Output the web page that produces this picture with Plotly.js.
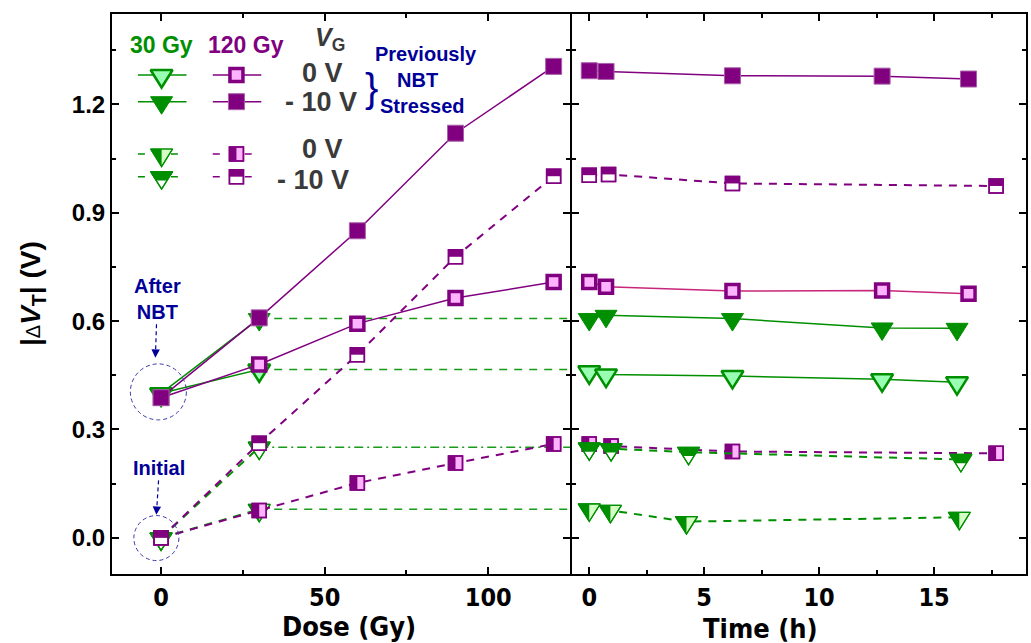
<!DOCTYPE html>
<html>
<head>
<meta charset="utf-8">
<script src="https://cdn.plot.ly/plotly-3.0.1.min.js"></script>
<style>html,body{margin:0;padding:0;background:#fff;}</style>
</head>
<body>
<div id="chart" style="width:1031px;height:643px;"></div>
<script>
// ---- Dose sweep (Gy) ----
const dose = [0, 30, 60, 90, 120];
const dose30 = [0, 30];

// |ΔVT| (V) versus dose
const prev30_0V    = [0.400, 0.466];
const prev30_m10V  = [0.400, 0.607];
const prev120_0V   = [0.388, 0.480, 0.593, 0.664, 0.708];
const prev120_m10V = [0.388, 0.609, 0.850, 1.120, 1.305];
const fresh30_0V    = [0.000, 0.079];
const fresh30_m10V  = [0.000, 0.251];
const fresh120_0V   = [0.000, 0.076, 0.152, 0.207, 0.260];
const fresh120_m10V = [0.000, 0.262, 0.507, 0.778, 1.001];

// ---- Post-irradiation recovery: time (h) and |ΔVT| (V) ----
const tPrev30  = [0, 0.73, 6.23, 12.74, 16.0];
const recPrev30_0V   = [0.461, 0.452, 0.448, 0.439, 0.431];
const recPrev30_m10V = [0.607, 0.616, 0.607, 0.581, 0.580];
const tPrev120 = [0, 0.73, 6.23, 12.74, 16.5];
const recPrev120_0V   = [0.708, 0.695, 0.683, 0.685, 0.676];
const recPrev120_m10V = [1.293, 1.291, 1.279, 1.278, 1.270];
const tFresh30_0V   = [0, 0.92, 4.23, 16.1];
const recFresh30_0V = [0.080, 0.076, 0.045, 0.057];
const tFresh30_m10V   = [0, 0.95, 4.32, 16.17];
const recFresh30_m10V = [0.249, 0.247, 0.237, 0.217];
const tFresh120_0V   = [0, 0.95, 6.23, 17.7];
const recFresh120_0V = [0.260, 0.254, 0.239, 0.234];
const tFresh120_m10V   = [0, 0.84, 6.23, 17.7];
const recFresh120_m10V = [1.004, 1.006, 0.981, 0.974];

// ---- Axis ticks and labels ----
const doseTicks = [0, 50, 100];
const timeTicks = [0, 5, 10, 15];
const vtTicks = [0.0, 0.3, 0.6, 0.9, 1.2];
const doseRange = [-15, 125];
const timeRange = [-0.75, 19];
const vtRange = [-0.1, 1.45];

const legendHeads = ['30 Gy', '120 Gy'];
const legendBias = ['0 V', '- 10 V', '0 V', '- 10 V'];

// ---- Styling ----
const C = {
  green: '#008f00', lgreen: '#99ffb3', pgreen: '#d4ffc4',
  purple: '#800080', pink: '#ffb3ff', blue: '#000099',
  rose: '#c8267a', gray: '#3a3a3a', white: '#ffffff'
};
const FONT = 'Liberation Sans, Arial, sans-serif';
const NARROW = 'Liberation Sans Narrow, DejaVu Sans Condensed, Arial Narrow, sans-serif';
const DASH = '8px,7px';

const series = {
  prev30_0V:     {shape: 'tri', fill: C.lgreen, edge: C.green, edgeW: 2.5, color: C.green, dash: 'solid', lw: 1.5},
  prev30_m10V:   {shape: 'tri', fill: C.green, edge: C.green, edgeW: 1, color: C.green, dash: 'solid', lw: 1.5},
  prev120_0V:    {shape: 'sq', size: 13, fill: C.pink, edge: C.purple, edgeW: 3.5, color: C.purple, dash: 'solid', lw: 1.5},
  prev120_m10V:  {shape: 'sq', size: 16, fill: C.purple, edge: '#a860a8', edgeW: 1, color: C.purple, dash: 'solid', lw: 1.5},
  fresh30_0V:    {shape: 'tri', fill: C.pgreen, edge: C.green, edgeW: 1.2, half: 'left', halfColor: C.green, color: C.green, dash: DASH, lw: 2},
  fresh30_m10V:  {shape: 'tri', fill: C.white, edge: C.green, edgeW: 1.2, half: 'top', halfColor: C.green, color: C.green, dash: DASH, lw: 2},
  fresh120_0V:   {shape: 'sq', size: 14, fill: C.pink, edge: C.purple, edgeW: 1.5, half: 'left', halfColor: C.purple, color: C.purple, dash: DASH, lw: 2},
  fresh120_m10V: {shape: 'sq', size: 14, fill: C.white, edge: C.purple, edgeW: 1.5, half: 'top', halfColor: C.purple, color: C.purple, dash: DASH, lw: 2}
};

function markerOf(s) {
  return {
    symbol: s.shape === 'tri' ? 'triangle-down' : 'square',
    size: s.shape === 'tri' ? 20 : s.size,
    color: s.fill,
    line: {color: s.edge, width: s.edgeW}
  };
}

function trace(key, x, y, xa, ya, opts) {
  const s = series[key];
  opts = opts || {};
  return {
    type: 'scatter', x: x, y: y, xaxis: xa, yaxis: ya,
    mode: opts.mode || 'lines+markers',
    line: {color: opts.lineColor || s.color, width: s.lw, dash: opts.dash || s.dash},
    marker: markerOf(s),
    meta: {shape: s.shape, size: s.size, half: s.half || null, halfColor: s.halfColor || null},
    showlegend: false, hoverinfo: 'skip', cliponaxis: false
  };
}

// Held level after the 30 Gy step, drawn across the rest of the dose axis
function holdLine(level, dash) {
  return {
    type: 'scatter', x: [dose30[1], doseRange[1]], y: [level, level], xaxis: 'x', yaxis: 'y',
    mode: 'lines', line: {color: '#1a9a1a', width: 1.5, dash: dash},
    showlegend: false, hoverinfo: 'skip'
  };
}

const traces = [
  holdLine(prev30_m10V[1], DASH),
  holdLine(prev30_0V[1], DASH),
  holdLine(fresh30_m10V[1], '9px,4px,2px,4px'),
  holdLine(fresh30_0V[1], DASH),
  // dose panel: triangles first, squares on top
  trace('fresh30_0V', dose30, fresh30_0V, 'x', 'y'),
  trace('fresh30_m10V', dose30, fresh30_m10V, 'x', 'y'),
  trace('prev30_0V', dose30, prev30_0V, 'x', 'y'),
  trace('prev30_m10V', dose30, prev30_m10V, 'x', 'y'),
  trace('fresh120_0V', dose, fresh120_0V, 'x', 'y'),
  trace('fresh120_m10V', dose, fresh120_m10V, 'x', 'y'),
  trace('prev120_0V', dose, prev120_0V, 'x', 'y'),
  trace('prev120_m10V', dose, prev120_m10V, 'x', 'y'),
  // time panel: squares first, triangles on top
  trace('fresh120_0V', tFresh120_0V, recFresh120_0V, 'x2', 'y2'),
  trace('fresh120_m10V', tFresh120_m10V, recFresh120_m10V, 'x2', 'y2'),
  trace('prev120_0V', tPrev120, recPrev120_0V, 'x2', 'y2', {lineColor: C.rose}),
  trace('prev120_m10V', tPrev120, recPrev120_m10V, 'x2', 'y2'),
  trace('fresh30_0V', tFresh30_0V, recFresh30_0V, 'x2', 'y2'),
  trace('fresh30_m10V', tFresh30_m10V, recFresh30_m10V, 'x2', 'y2'),
  trace('prev30_0V', tPrev30, recPrev30_0V, 'x2', 'y2'),
  trace('prev30_m10V', tPrev30, recPrev30_m10V, 'x2', 'y2')
];

// ---- Key (drawn on an overlay axis pair spanning [0,1]) ----
const keyRows = [0.891, 0.8434, 0.75, 0.7095];
const keyRowSeries = [
  ['prev30_0V', 'prev120_0V'],
  ['prev30_m10V', 'prev120_m10V'],
  ['fresh30_0V', 'fresh120_0V'],
  ['fresh30_m10V', 'fresh120_m10V']
];
const keyColsSolid = [[0.0566, 0.1083, 0.1627], [0.22, 0.2717, 0.326]];
const keyColsDash = [[0.0566, 0.1083, 0.1438], [0.22, 0.2717, 0.305]];
const keyDash = ['7px,26px', '7px,25px'];

keyRows.forEach(function (ry, r) {
  keyRowSeries[r].forEach(function (key, c) {
    const s = series[key];
    const dashed = r >= 2;
    const cols = dashed ? keyColsDash[c] : keyColsSolid[c];
    traces.push({
      type: 'scatter', x: [cols[0], cols[2]], y: [ry, ry], xaxis: 'x3', yaxis: 'y3',
      mode: 'lines', line: {color: s.color, width: 1.5, dash: dashed ? keyDash[c] : 'solid'},
      showlegend: false, hoverinfo: 'skip'
    });
    traces.push({
      type: 'scatter', x: [cols[1]], y: [ry], xaxis: 'x3', yaxis: 'y3',
      mode: 'markers', marker: markerOf(s),
      meta: {shape: s.shape, size: s.size, half: s.half || null, halfColor: s.halfColor || null},
      showlegend: false, hoverinfo: 'skip', cliponaxis: false
    });
  });
});

function keyText(x, y, text, color, size, extra) {
  return Object.assign({
    xref: 'x3', yref: 'y3', x: x, y: y, text: text, showarrow: false,
    xanchor: 'center', yanchor: 'middle',
    font: {family: FONT, size: size, color: color, weight: 'bold'}
  }, extra || {});
}

const annotations = [
  keyText(0.1083, 0.9446, legendHeads[0], C.green, 23),
  keyText(0.2935, 0.9446, legendHeads[1], C.purple, 23),
  keyText(0.475, 0.955, '<i>V</i><sub>G</sub>', C.gray, 25),
  keyText(0.4597, 0.8946, legendBias[0], C.gray, 27),
  keyText(0.4569, 0.8434, legendBias[1], C.gray, 27),
  keyText(0.4597, 0.759, legendBias[2], C.gray, 27),
  keyText(0.4379, 0.7036, legendBias[3], C.gray, 27),
  keyText(0.5658, 0.868, '}', C.blue, 40, {font: {family: FONT, size: 40, color: C.blue, weight: 'normal'}}),
  keyText(0.6856, 0.9286, 'Previously', C.blue, 20),
  keyText(0.6667, 0.882, 'NBT', C.blue, 20),
  keyText(0.6776, 0.8357, 'Stressed', C.blue, 20),
  // "After NBT" and "Initial" labels, each with an arrow down to its ring
  {xref: 'x', yref: 'y', x: dose[0], y: prev120_m10V[0], xshift: -5.7, yshift: 40,
   ax: 2, ay: -59, text: 'After<br>NBT', showarrow: true, arrowhead: 2, arrowsize: 1.4,
   arrowwidth: 1.2, arrowcolor: C.blue, startstandoff: 4,
   font: {family: FONT, size: 20, color: C.blue, weight: 'bold'}},
  {xref: 'x', yref: 'y', x: dose[0], y: fresh120_0V[0], xshift: -4.7, yshift: 23,
   ax: 3, ay: -47, text: 'Initial', showarrow: true, arrowhead: 2, arrowsize: 1.4,
   arrowwidth: 1.2, arrowcolor: C.blue, startstandoff: 6,
   font: {family: FONT, size: 20, color: C.blue, weight: 'bold'}},
  // axis titles
  {xref: 'paper', yref: 'paper', x: -0.0875, y: 0.5, textangle: -90, showarrow: false,
   xanchor: 'center', yanchor: 'middle',
   text: '|<span style="font-weight:normal;font-size:20px">Δ</span><i>V</i><sub>T</sub>| (V)',
   font: {family: FONT, size: 28, color: '#000', weight: 'bold'}},
  {xref: 'paper', yref: 'paper', x: 0.2593, y: -0.093, showarrow: false, text: 'Dose (Gy)',
   xanchor: 'center', yanchor: 'middle',
   font: {family: NARROW, size: 27, color: '#000', weight: 'bold'}},
  {xref: 'paper', yref: 'paper', x: 0.710, y: -0.097, showarrow: false, text: 'Time (h)',
   xanchor: 'center', yanchor: 'middle',
   font: {family: NARROW, size: 27, color: '#000', weight: 'bold'}}
];

const ring = {color: '#3838a8', width: 1, dash: '4px,3px'};
const shapes = [
  {type: 'circle', xref: 'x', yref: 'y', xsizemode: 'pixel', ysizemode: 'pixel',
   xanchor: dose[0], yanchor: prev120_m10V[0], x0: -30.7, x1: 25.3, y0: -22.2, y1: 33.8, line: ring},
  {type: 'circle', xref: 'x', yref: 'y', xsizemode: 'pixel', ysizemode: 'pixel',
   xanchor: dose[0], yanchor: fresh120_0V[0], x0: -27.2, x1: 17.8, y0: -22.7, y1: 22.3, line: ring}
];

const axisBase = {
  showline: true, linecolor: '#000', linewidth: 2, mirror: 'ticks',
  ticks: 'inside', ticklen: 7, tickwidth: 2, tickcolor: '#000',
  showgrid: false, zeroline: false, fixedrange: true
};
const xTickFont = {family: NARROW, size: 25, color: '#000', weight: 'bold'};
const minorTicks = function (d) {
  return {tickmode: 'linear', tick0: 0, dtick: d, ticks: 'inside', ticklen: 4, tickwidth: 1.5, tickcolor: '#000'};
};

const layout = {
  width: 1031, height: 643,
  margin: {l: 112, r: 5, t: 14, b: 69},
  paper_bgcolor: '#fff', plot_bgcolor: 'rgba(0,0,0,0)',
  hovermode: false,
  xaxis: Object.assign({}, axisBase, {
    domain: [0, 0.5011], range: doseRange, anchor: 'y',
    tickmode: 'array', tickvals: doseTicks, ticktext: doseTicks.map(String),
    minor: minorTicks(25), tickfont: xTickFont
  }),
  xaxis2: Object.assign({}, axisBase, {
    domain: [0.5033, 1], range: timeRange, anchor: 'y2',
    tickmode: 'array', tickvals: timeTicks, ticktext: timeTicks.map(String),
    minor: minorTicks(2.5), tickfont: xTickFont
  }),
  yaxis: Object.assign({}, axisBase, {
    domain: [0, 1], range: vtRange, anchor: 'x',
    tickmode: 'array', tickvals: vtTicks, ticktext: vtTicks.map(v => v.toFixed(1)),
    minor: minorTicks(0.15),
    tickfont: {family: FONT, size: 24, color: '#000', weight: 'bold'}
  }),
  yaxis2: Object.assign({}, axisBase, {
    domain: [0, 1], range: vtRange, anchor: 'x2',
    tickmode: 'array', tickvals: vtTicks, showticklabels: false,
    minor: minorTicks(0.15)
  }),
  xaxis3: {overlaying: 'x', range: [0, 1], visible: false, fixedrange: true, anchor: 'y3'},
  yaxis3: {overlaying: 'y', range: [0, 1], visible: false, fixedrange: true, anchor: 'x3'},
  annotations: annotations,
  shapes: shapes
};

// Marker outlines: an upright-ratio inverted triangle and half-filled symbols
const SVGNS = 'http://www.w3.org/2000/svg';
const TRI_PATH = 'M-11,-5H11L0,12.5Z';
function halfPath(m) {
  if (m.shape === 'tri') {
    return m.half === 'top' ? 'M-11,-5H11L5.5,3.75H-5.5Z' : 'M-11,-5H0V12.5Z';
  }
  const r = m.size / 2;
  return m.half === 'top'
    ? 'M' + (-r) + ',' + (-r) + 'H' + r + 'V0H' + (-r) + 'Z'
    : 'M' + (-r) + ',' + (-r) + 'H0V' + r + 'H' + (-r) + 'Z';
}

function decorate(gd) {
  gd.querySelectorAll('g.trace.scatter').forEach(function (tr) {
    const cd = tr.__data__;
    if (!cd || !cd[0] || !cd[0].trace) return;
    const m = cd[0].trace.meta;
    if (!m || !m.shape) return;
    tr.querySelectorAll('g.points path.point').forEach(function (p) {
      if (m.shape === 'tri') p.setAttribute('d', TRI_PATH);
      if (m.half) {
        const h = document.createElementNS(SVGNS, 'path');
        h.setAttribute('d', halfPath(m));
        h.setAttribute('transform', p.getAttribute('transform'));
        h.setAttribute('style', 'fill:' + m.halfColor + ';stroke:none;');
        p.parentNode.insertBefore(h, p.nextSibling);
        const o = p.cloneNode(false);
        o.style.fill = 'none';
        p.parentNode.insertBefore(o, h.nextSibling);
      }
    });
  });
  // dashed pointer lines for the annotation arrows
  gd.querySelectorAll('.annotation-arrow-g path').forEach(function (p) {
    p.style.strokeDasharray = '4px,3px';
  });
}

Plotly.newPlot('chart', traces, layout, {displayModeBar: false, responsive: false})
  .then(decorate);
</script>
</body>
</html>
